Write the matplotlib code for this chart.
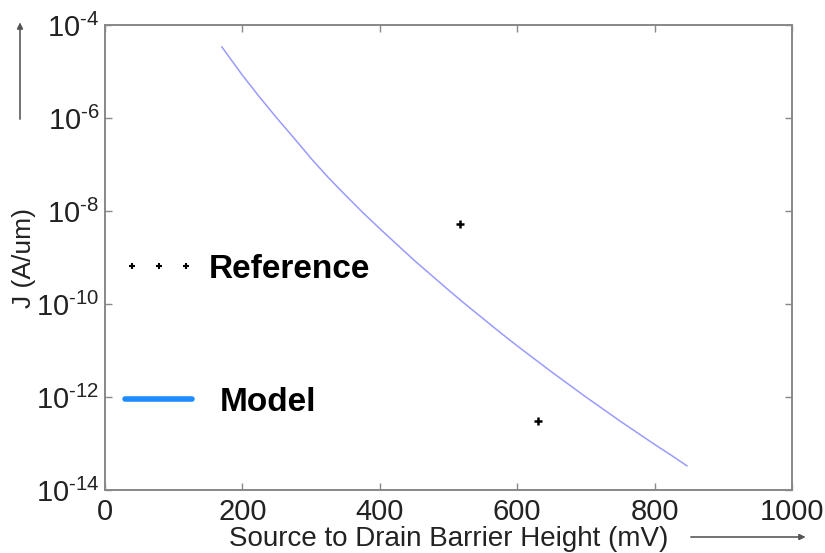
import numpy as np
import matplotlib.pyplot as plt
from matplotlib.lines import Line2D

plt.rcParams['font.family'] = ['Liberation Sans', 'DejaVu Sans']
plt.rcParams['mathtext.fontset'] = 'custom'
plt.rcParams['mathtext.rm'] = 'Liberation Sans'

# model curve: barrier height (mV) vs log10 J (A/um)
model_mv = [170, 200, 225, 250, 275, 300, 325, 350, 375, 400, 425, 450, 475,
            500, 525, 550, 575, 600, 625, 650, 675, 700, 725, 750, 775, 800,
            825, 847]
model_logj = [-4.47, -5.08, -5.55, -6.00, -6.43, -6.87, -7.28, -7.66, -8.03,
              -8.38, -8.72, -9.06, -9.38, -9.70, -10.01, -10.31, -10.61,
              -10.90, -11.18, -11.46, -11.73, -12.00, -12.26, -12.52, -12.77,
              -13.02, -13.26, -13.48]

# reference points
ref_mv = [517, 630]
ref_logj = [-8.28, -12.52]

xticks = [0, 200, 400, 600, 800, 1000]
yexp = [-4, -6, -8, -10, -12, -14]

gray = '#888888'

fig = plt.figure(figsize=(8.25, 5.53), dpi=100)
ax = fig.add_axes([105/825, 63/553, 687/825, 465/553])

ax.plot(model_mv, 10.0**np.array(model_logj), color='#9a9aff', lw=1.1)
ax.plot(ref_mv, 10.0**np.array(ref_logj), ls='none', marker='+', color='k',
        ms=6, mew=1.8)

ax.set_yscale('log')
ax.set_xlim(0, 1000)
ax.set_ylim(1e-14, 1e-4)
ax.set_xticks(xticks)
ax.set_xticklabels([str(v) for v in xticks])
ax.set_yticks([10.0**e for e in yexp])
ax.set_yticklabels([r'$\mathregular{10^{\text{-}%d}}$' % -e for e in yexp])
ax.minorticks_off()

for s in ax.spines.values():
    s.set_color(gray)
    s.set_linewidth(1.4)
ax.tick_params(direction='in', length=5, width=1, color=gray, top=True,
               right=True, labelsize=21, labelcolor='#222222')
ax.tick_params(axis='x', pad=6)
ax.tick_params(axis='y', pad=4)

ax.set_xlabel('Source to Drain Barrier Height (mV)', fontsize=20,
              color='#222222', labelpad=0)
ax.set_ylabel('J (A/um)', fontsize=19, color='#222222')
ax.yaxis.set_label_coords(-0.1, 0.5)

# legend-like annotations
lp = dict(size=24, weight='bold')
h_ref = Line2D([], [], ls='none', marker='+', color='k', ms=5, mew=1.5)
leg1 = ax.legend([h_ref], ['Reference'], numpoints=3, loc='center left',
                 bbox_to_anchor=(0.025, 0.475), frameon=False, prop=lp,
                 borderpad=0, borderaxespad=0, handlelength=2.2,
                 handletextpad=0.4)
ax.add_artist(leg1)
h_mod = Line2D([], [], color='#1e8cff', lw=4, solid_capstyle='round')
ax.legend([h_mod], ['Model'], loc='center left',
          bbox_to_anchor=(0.029, 0.188), frameon=False, prop=lp,
          borderpad=0, borderaxespad=0, handlelength=2.0,
          handletextpad=0.85)

# axis direction arrows
arr = dict(arrowstyle='-|>', color='#555555', lw=0.8, mutation_scale=9)
fig.add_artist(plt.annotate('', xy=(20/825, 1-20/553), xytext=(20/825, 1-122/553),
                            xycoords='figure fraction', arrowprops=arr))
fig.add_artist(plt.annotate('', xy=(808/825, 1-537/553), xytext=(688/825, 1-537/553),
                            xycoords='figure fraction', arrowprops=arr))

fig.savefig('out.png', dpi=100, facecolor='white')
